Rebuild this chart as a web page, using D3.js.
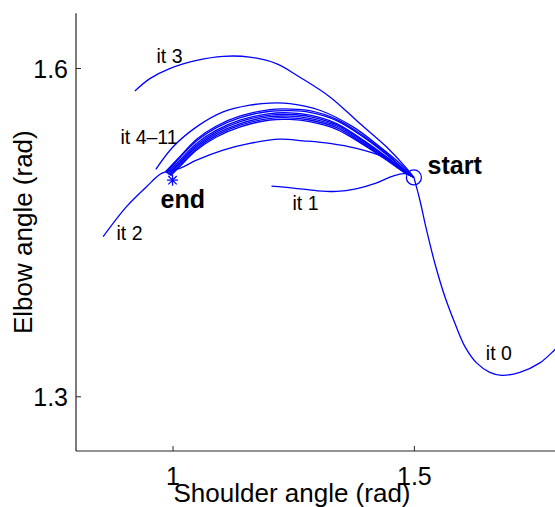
<!DOCTYPE html>
<html>
<head>
<meta charset="utf-8">
<script src="https://cdn.jsdelivr.net/npm/d3@7"></script>
<style>
  html, body { margin: 0; padding: 0; background: #fff; }
  svg { display: block; }
  text { font-family: "Liberation Sans", Arial, Helvetica, sans-serif; fill: #000; }
</style>
</head>
<body>
<svg id="chart" width="555" height="507"></svg>
<script>
// ---- data (shoulder angle, elbow angle) in rad ----
const startPoint = [1.5, 1.5];
const endPoint = [1.0, 1.4975];

const xTicks = [1, 1.5];
const yTicks = [1.3, 1.6];
const xTickLabels = ["1", "1.5"];
const yTickLabels = ["1.3", "1.6"];

const it0 = [[1.5,1.5],[1.5123,1.4794],[1.5262,1.452],[1.5434,1.4216],[1.5641,1.3912],[1.5848,1.3669],[1.6055,1.3456],[1.6298,1.3305],[1.6573,1.3219],[1.6816,1.3192],[1.7195,1.3219],[1.761,1.3305],[1.792,1.3426],[1.813,1.352]];
const it1 = [[1.5,1.5],[1.48,1.5035],[1.455,1.501],[1.42,1.4945],[1.38,1.4895],[1.34,1.4872],[1.30,1.4878],[1.25,1.4903],[1.205,1.4921]];
const it2 = [[1.5,1.5],[1.471,1.5097],[1.4363,1.5188],[1.3812,1.5265],[1.3259,1.5311],[1.27,1.5335],[1.2223,1.535],[1.16,1.5311],[1.1048,1.525],[1.0497,1.5158],[1.0151,1.5083],[0.9772,1.5037],[0.9461,1.4915],[0.9047,1.4733],[0.8562,1.4459]];
const it3 = [[1.5,1.5],[1.485,1.5083],[1.443,1.528],[1.388,1.5493],[1.326,1.5736],[1.263,1.5918],[1.215,1.604],[1.16,1.61],[1.105,1.6107],[1.05,1.607],[0.994,1.5995],[0.953,1.5903],[0.922,1.579]];
const it4 = [[1.5,1.5],[1.471,1.5128],[1.4295,1.528],[1.374,1.5462],[1.305,1.5614],[1.243,1.5675],[1.2016,1.568],[1.16,1.566],[1.1048,1.5599],[1.0497,1.5462],[1.0012,1.528],[0.9654,1.5074]];
const it5 = [[1.5,1.5],[1.478,1.508],[1.443,1.522],[1.395,1.538],[1.34,1.553],[1.284,1.561],[1.243,1.5625],[1.202,1.562],[1.139,1.556],[1.091,1.547],[1.05,1.535],[1.015,1.519],[0.985,1.505]];
const it6 = [[1.5,1.5],[1.478,1.5075],[1.443,1.521],[1.395,1.537],[1.34,1.552],[1.284,1.5595],[1.243,1.561],[1.202,1.5605],[1.139,1.5545],[1.091,1.5455],[1.05,1.5335],[1.015,1.518],[0.987,1.5045]];
const it7 = [[1.5,1.5],[1.4777,1.5068],[1.4433,1.5188],[1.3949,1.5341],[1.3398,1.5493],[1.2844,1.5569],[1.243,1.559],[1.2016,1.5584],[1.1394,1.5523],[1.0912,1.5432],[1.0497,1.5311],[1.0151,1.5158],[0.9876,1.5037]];
const it8 = [[1.5,1.5],[1.478,1.5065],[1.443,1.5182],[1.395,1.5332],[1.34,1.5482],[1.284,1.5556],[1.243,1.5575],[1.202,1.557],[1.139,1.5508],[1.091,1.5417],[1.05,1.5295],[1.015,1.5142],[0.99,1.503]];
const it9 = [[1.5,1.5],[1.478,1.506],[1.443,1.5175],[1.395,1.532],[1.34,1.547],[1.284,1.554],[1.243,1.556],[1.202,1.5555],[1.139,1.549],[1.091,1.54],[1.05,1.528],[1.015,1.513],[0.992,1.5025]];
const it10 = [[1.5,1.5],[1.478,1.5055],[1.443,1.517],[1.395,1.531],[1.34,1.5455],[1.284,1.5525],[1.243,1.5545],[1.202,1.554],[1.139,1.5475],[1.091,1.5385],[1.05,1.5265],[1.015,1.5115],[0.994,1.502]];
const it11 = [[1.5,1.5],[1.478,1.505],[1.443,1.516],[1.395,1.53],[1.34,1.544],[1.284,1.551],[1.243,1.553],[1.202,1.5525],[1.139,1.546],[1.091,1.537],[1.05,1.525],[1.015,1.51],[0.996,1.5015]];

const trajectories = [it0, it1, it2, it3, it4, it5, it6, it7, it8, it9, it10, it11];

// annotation labels: [text, x (rad), y (rad)] (left edge, baseline)
const iterLabels = [
  ["it 0", 1.649, 1.3335],
  ["it 1", 1.2486, 1.4702],
  ["it 2", 0.8840, 1.4429],
  ["it 3", 0.9668, 1.6046],
  ["it 4\u201311", 0.8922, 1.5302]
];
const markerLabels = [
  ["start", 1.5283, 1.5031],
  ["end", 0.9751, 1.4723]
];

// ---- layout ----
const svg = d3.select("#chart");
const plotLeft = 76, plotRight = 558.7, plotTop = 13.3, plotBottom = 451;

const x = d3.scaleLinear().domain([0.8, 1.8]).range([plotLeft, plotRight]);
const y = d3.scaleLinear().domain([1.25, 1.65]).range([plotBottom, plotTop]);

svg.append("defs").append("clipPath").attr("id", "plotclip")
  .append("rect").attr("x", plotLeft).attr("y", plotTop)
  .attr("width", plotRight - plotLeft).attr("height", plotBottom - plotTop);

const line = d3.line()
  .x(d => x(d[0])).y(d => y(d[1]))
  .curve(d3.curveCatmullRom.alpha(0.5));

const gLines = svg.append("g").attr("clip-path", "url(#plotclip)");
gLines.selectAll("path.traj").data(trajectories).join("path")
  .attr("class", "traj")
  .attr("d", line)
  .attr("fill", "none")
  .attr("stroke", "#0000ff")
  .attr("stroke-width", 1.3);

// start marker (circle)
gLines.append("circle")
  .attr("cx", x(startPoint[0])).attr("cy", y(startPoint[1]))
  .attr("r", 7.5)
  .attr("fill", "none").attr("stroke", "#0000ff").attr("stroke-width", 1.3);

// end marker (asterisk)
const ex = x(endPoint[0]), ey = y(endPoint[1]), s = 5.5, sd = 4.2;
const ast = gLines.append("g").attr("stroke", "#0000ff").attr("stroke-width", 1.3);
[[0, -s, 0, s], [-s, 0, s, 0], [-sd, -sd, sd, sd], [-sd, sd, sd, -sd]].forEach(c => {
  ast.append("line")
    .attr("x1", ex + c[0]).attr("y1", ey + c[1])
    .attr("x2", ex + c[2]).attr("y2", ey + c[3]);
});

// ---- axes ----
const xAxis = d3.axisBottom(x).tickValues(xTicks)
  .tickFormat((d, i) => xTickLabels[i])
  .tickSizeInner(-5).tickSizeOuter(0).tickPadding(16);
const yAxis = d3.axisLeft(y).tickValues(yTicks)
  .tickFormat((d, i) => yTickLabels[i])
  .tickSizeInner(-5).tickSizeOuter(0).tickPadding(8);

const gx = svg.append("g").attr("transform", `translate(0,${plotBottom})`).call(xAxis);
const gy = svg.append("g").attr("transform", `translate(${plotLeft},0)`).call(yAxis);

[gx, gy].forEach(g => {
  g.select(".domain").attr("stroke", "#262626").attr("stroke-width", 1.2);
  g.selectAll(".tick line").attr("stroke", "#262626").attr("stroke-width", 1);
  g.selectAll(".tick text")
    .style("font-family", "'Liberation Sans', Arial, sans-serif")
    .style("font-size", "25px").attr("fill", "#000");
});
gy.selectAll(".tick text").attr("dy", "0.38em");
gx.select(".domain").attr("d", `M${plotLeft},0H${plotRight}`);
gy.select(".domain").attr("d", `M0,${plotTop}V${plotBottom}`);

// axis titles
svg.append("text")
  .attr("x", 292).attr("y", 501.5)
  .attr("text-anchor", "middle")
  .style("font-size", "26px")
  .text("Shoulder angle (rad)");

svg.append("text")
  .attr("transform", `translate(32,${(plotTop + plotBottom) / 2}) rotate(-90)`)
  .attr("text-anchor", "middle")
  .style("font-size", "26px")
  .text("Elbow angle (rad)");

// iteration labels
svg.selectAll("text.iter").data(iterLabels).join("text")
  .attr("class", "iter")
  .attr("x", d => x(d[1])).attr("y", d => y(d[2]))
  .style("font-size", "19.5px")
  .text(d => d[0]);

svg.selectAll("text.mark").data(markerLabels).join("text")
  .attr("class", "mark")
  .attr("x", d => x(d[1])).attr("y", d => y(d[2]))
  .style("font-size", "25px").style("font-weight", "bold")
  .text(d => d[0]);
</script>
</body>
</html>
